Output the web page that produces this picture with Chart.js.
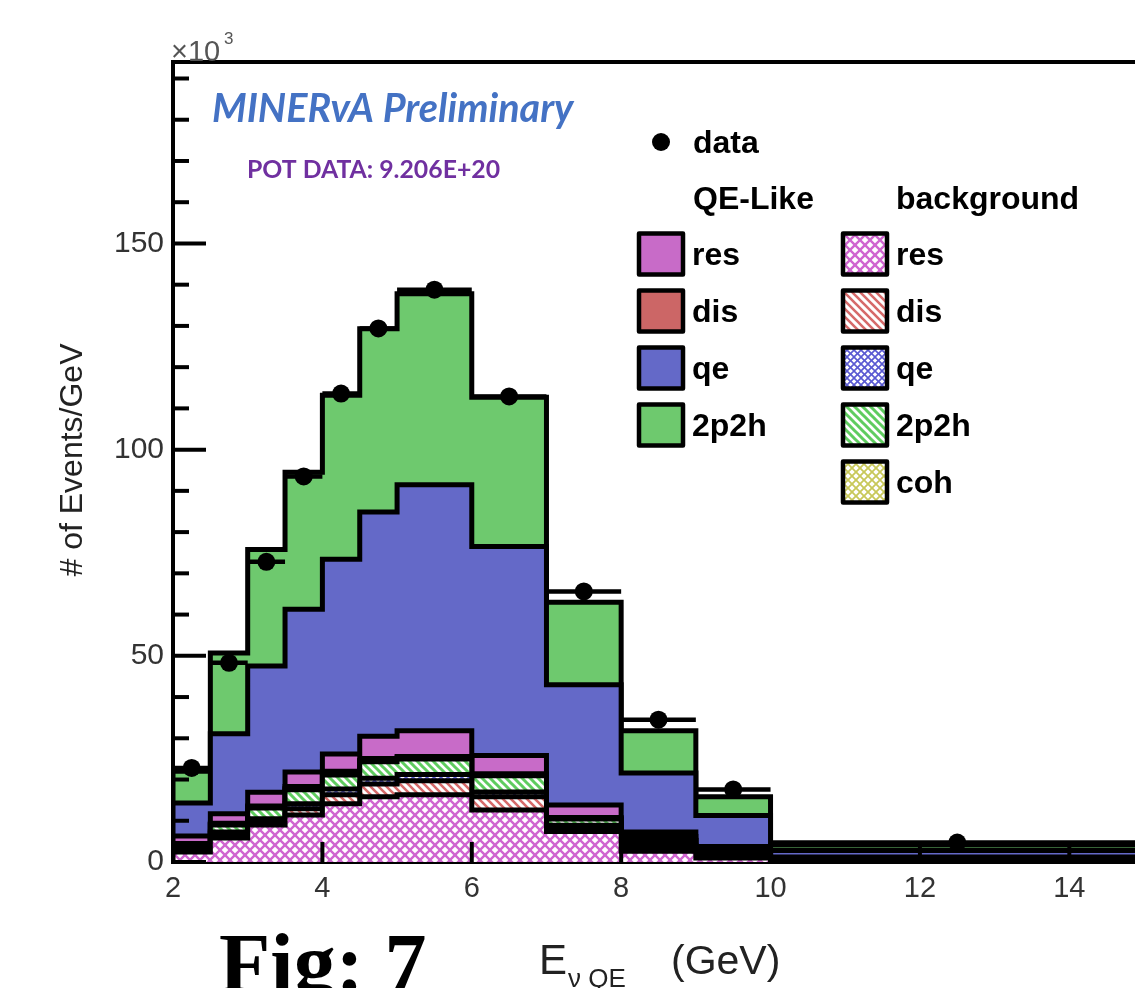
<!DOCTYPE html>
<html><head><meta charset="utf-8">
<script src="https://cdn.jsdelivr.net/npm/chart.js@4.4.1/dist/chart.umd.min.js"></script>
<style>
html,body{margin:0;padding:0;background:#fff;overflow:hidden;width:1135px;height:988px;}
#wrap{position:absolute;left:0;top:0;width:1200px;height:988px;}
</style></head><body>
<div id="wrap"><canvas id="c" width="1200" height="988"></canvas></div>
<script>
// ---------------- data (×10^3 events / GeV) ----------------
const binEdges = [2, 2.5, 3, 3.5, 4, 4.5, 5, 6, 7, 8, 9, 10, 15];
// background (hatched) components
const bgRes  = [2.4, 5.8, 9.0, 11.4, 14.1, 15.8, 16.3, 12.6, 7.4, 2.6, 1.0, 0.35];
const bgDis  = [0.6, 1.1, 1.0, 1.5, 2.2, 3.1, 3.4, 3.2, 1.0, 1.0, 0.5, 0.15];
const bgQe   = [0.2, 0.4, 0.5, 1.2, 1.4, 1.4, 1.5, 1.2, 0.5, 0.4, 0.2, 0.05];
const bg2p2h = [0.9, 1.7, 2.6, 3.4, 3.4, 4.0, 3.8, 3.9, 1.5, 1.2, 0.7, 0.2];
const bgCoh  = [0.1, 0.1, 0.2, 0.3, 0.3, 0.3, 0.2, 0.2, 0.1, 0.1, 0.05, 0.05];
// QE-like (solid) components
const qeDis  = [0.3, 0.3, 0.3, 0.5, 0.6, 0.5, 0.4, 0.3, 0.3, 0.9, 0.3, 0.1];
const qeRes  = [1.8, 2.3, 3.3, 3.5, 4.2, 5.4, 6.2, 4.4, 3.0, 1.1, 1.0, 0.3];
const qeQe   = [8.0, 19.4, 30.6, 39.5, 47.2, 54.4, 59.7, 50.7, 29.2, 14.3, 7.55, 1.6];
const qe2p2h = [7.7, 19.6, 28.3, 33.2, 39.8, 44.4, 46.3, 36.2, 20.0, 10.2, 4.5, 1.3];
// data points
const dataValues = [22.8, 48.3, 72.8, 93.5, 113.6, 129.4, 138.8, 112.9, 65.6, 34.5, 17.6, 4.7];
// axis ticks
const xTickValues = [2, 4, 6, 8, 10, 12, 14];
const yTickValues = [0, 50, 100, 150];
const yMinorStep = 10;

// ---------------- styles ----------------
const cv = document.getElementById('c');
const ctx0 = cv.getContext('2d');
function hatch(color, kind, size, lw){
  const c = document.createElement('canvas'); c.width = size; c.height = size;
  const g = c.getContext('2d');
  g.fillStyle = '#fff'; g.fillRect(0,0,size,size);
  g.strokeStyle = color; g.lineWidth = lw; g.lineCap='square';
  const s = size;
  function fwd(){ g.beginPath(); g.moveTo(-1,s+1); g.lineTo(s+1,-1); g.moveTo(-s/2-1,s/2+1); g.lineTo(s/2+1,-s/2-1); g.moveTo(s/2-1,s*1.5+1); g.lineTo(s*1.5+1,s/2-1); g.stroke(); }
  function back(){ g.beginPath(); g.moveTo(-1,-1); g.lineTo(s+1,s+1); g.moveTo(s/2-1,-s/2-1); g.lineTo(s*1.5+1,s/2+1); g.moveTo(-s/2-1,s/2-1); g.lineTo(s/2+1,s*1.5+1); g.stroke(); }
  if (kind==='cross'){ fwd(); back(); }
  else if (kind==='fwd') fwd(); else back();
  return ctx0.createPattern(c,'repeat');
}
const layers = [
  {vals: bgRes,  fill: hatch('#d066d0','cross',10,2.4)},
  {vals: bgDis,  fill: hatch('#d66a6a','back',8,2.6)},
  {vals: bgQe,   fill: hatch('#5a5ad2','cross',7,1.6)},
  {vals: bg2p2h, fill: hatch('#5fcc5f','back',8,3)},
  {vals: bgCoh,  fill: hatch('#c8c85a','cross',8,1.8)},
  {vals: qeDis,  fill: '#cc6666'},
  {vals: qeRes,  fill: '#c86bc8'},
  {vals: qeQe,   fill: '#6469c8'},
  {vals: qe2p2h, fill: '#6ec96e'}
];
const nBins = binEdges.length - 1;
let running = new Array(nBins).fill(0);
layers.forEach(L => { running = running.map((r,j) => r + L.vals[j]); L.cum = running.slice(); });
function stepPoints(cum){
  const pts = [{x: binEdges[0], y: 0}];
  cum.forEach((v,j) => pts.push({x: binEdges[j], y: v}));
  pts.push({x: binEdges[nBins], y: cum[nBins-1]});
  pts.push({x: binEdges[nBins], y: 0});
  return pts;
}
const datasets = layers.map((L,i) => ({
  type: 'line', data: stepPoints(L.cum), stepped: true, fill: 'origin',
  backgroundColor: L.fill, borderColor: '#000', borderWidth: 5,
  borderJoinStyle: 'miter', borderCapStyle: 'butt',
  pointRadius: 0, order: i + 2
}));
// data error bars (bin width) and markers
const errPts = [];
dataValues.forEach((d,j) => { errPts.push({x: binEdges[j], y: d}, {x: binEdges[j+1], y: d}, {x: binEdges[j+1], y: null}); });
datasets.push({type:'line', data: errPts, borderColor:'#000', borderWidth:4.5, pointRadius:0, fill:false, spanGaps:false, order:1});
datasets.push({type:'line', data: dataValues.map((d,j)=>({x:(binEdges[j]+binEdges[j+1])/2, y:d})), showLine:false,
  pointRadius:9, pointBackgroundColor:'#000', pointBorderWidth:0, order:0});

// ---------------- plugins ----------------
const SANS = '"Liberation Sans", Arial, sans-serif';
const framePlugin = {
  id:'frame',
  afterDatasetsDraw(chart){
    const {ctx, chartArea:a, scales:{x,y}} = chart;
    ctx.save();
    ctx.strokeStyle='#000'; ctx.lineWidth=4; ctx.lineCap='butt';
    ctx.beginPath(); ctx.moveTo(a.left-2, a.top); ctx.lineTo(a.right+2, a.top); ctx.stroke();
    // inward ticks on y
    for (let v=0; v<=y.max; v+=yMinorStep){
      const py = y.getPixelForValue(v);
      const major = yTickValues.includes(v);
      ctx.beginPath(); ctx.moveTo(a.left, py); ctx.lineTo(a.left + (major?33:16), py); ctx.stroke();
    }
    xTickValues.forEach(v => {
      const px = x.getPixelForValue(v);
      ctx.beginPath(); ctx.moveTo(px, a.bottom); ctx.lineTo(px, a.bottom-20); ctx.stroke();
    });
    ctx.restore();
  },
  afterDraw(chart){
    const {ctx} = chart;
    ctx.save();
    ctx.textBaseline='alphabetic';
    // x10^3
    ctx.fillStyle='#555';
    ctx.font='29px ' + SANS;
    ctx.fillText('\u00d710', 171, 61);
    ctx.font='17px ' + SANS;
    ctx.fillText('3', 224, 44);
    // MINERvA Preliminary
    ctx.fillStyle='#4472c4';
    ctx.font='italic bold 39.5px Lato, "Open Sans", sans-serif';
    ctx.fillText('MINERvA Preliminary', 212, 122);
    ctx.fillStyle='#7030a0';
    ctx.font='bold 24.8px Lato, "Open Sans", sans-serif';
    ctx.fillText('POT DATA: 9.206E+20', 247, 178);
    // legend
    ctx.fillStyle='#000';
    ctx.beginPath(); ctx.arc(661,142,9,0,Math.PI*2); ctx.fill();
    ctx.font='bold 32px ' + SANS;
    ctx.fillText('data', 693, 153);
    ctx.fillText('QE-Like', 693, 209);
    ctx.fillText('background', 896, 209);
    const rows = [254, 311, 368, 425, 482];
    const col1 = [{l:6,t:'res'},{l:5,t:'dis'},{l:7,t:'qe'},{l:8,t:'2p2h'}];
    const col2 = [{l:0,t:'res'},{l:1,t:'dis'},{l:2,t:'qe'},{l:3,t:'2p2h'},{l:4,t:'coh'}];
    function box(x0, yc, fill){
      const w=44, h=41, x=x0, yy=yc-h/2;
      ctx.fillStyle = fill; ctx.fillRect(x, yy, w, h);
      ctx.strokeStyle='#000'; ctx.lineWidth=4.5; ctx.lineJoin='round';
      ctx.strokeRect(x, yy, w, h);
    }
    col1.forEach((e,i)=>{ box(639, rows[i], layers[e.l].fill); ctx.fillStyle='#000'; ctx.fillText(e.t, 692, rows[i]+11); });
    col2.forEach((e,i)=>{ box(843, rows[i], layers[e.l].fill); ctx.fillStyle='#000'; ctx.fillText(e.t, 896, rows[i]+11); });
    // y title
    ctx.save();
    ctx.translate(82, 460); ctx.rotate(-Math.PI/2);
    ctx.textAlign='center'; ctx.fillStyle='#222';
    ctx.font='32px ' + SANS;
    ctx.fillText('# of Events/GeV', 0, 0);
    ctx.restore();
    // x title
    ctx.fillStyle='#222';
    ctx.font='42px ' + SANS;
    ctx.fillText('E', 539, 974);
    ctx.font='26px ' + SANS;
    ctx.fillText('\u03bd QE', 568, 987);
    ctx.font='41px ' + SANS;
    ctx.fillText('(GeV)', 671, 974);
    // Fig: 7
    ctx.fillStyle='#000';
    ctx.font='bold 84px "Liberation Serif", "Times New Roman", serif';
    ctx.fillText('Fig: 7', 219, 992);
    ctx.restore();
  }
};

new Chart(cv, {
  type: 'line',
  data: { datasets },
  options: {
    responsive: false, animation: false,
    layout: { padding: { top: 62, right: 56, left: 0, bottom: 0 } },
    plugins: { legend: { display: false }, tooltip: { enabled: false } },
    scales: {
      x: {
        type: 'linear', min: 2, max: 15, z: 1,
        afterFit(s){ s.height = 126; },
        afterBuildTicks(s){ s.ticks = xTickValues.map(v => ({value: v})); },
        grid: { drawOnChartArea: false, drawTicks: false },
        border: { display: true, width: 4, color: '#000' },
        ticks: { color: '#333', padding: 10, maxRotation: 0, autoSkip: false,
          font: { family: SANS, size: 29 } }
      },
      y: {
        type: 'linear', min: 0, max: 194, z: 1,
        afterFit(s){ s.width = 173; },
        afterBuildTicks(s){ s.ticks = yTickValues.map(v => ({value: v})); },
        grid: { drawOnChartArea: false, drawTicks: false },
        border: { display: true, width: 4, color: '#000' },
        ticks: { color: '#333', padding: 9,
          font: { family: SANS, size: 30 } }
      }
    }
  },
  plugins: [framePlugin]
});
</script>
</body></html>
